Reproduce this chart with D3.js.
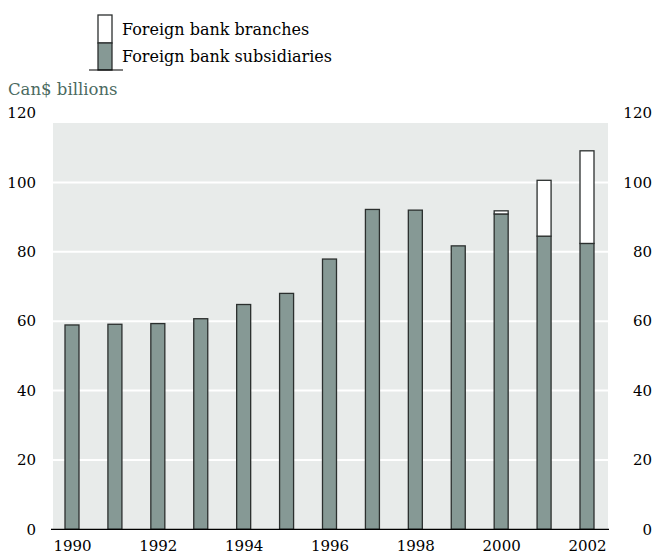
<!DOCTYPE html>
<html><head><meta charset="utf-8">
<script src="https://cdn.jsdelivr.net/npm/d3@7"></script>
<style>body{margin:0;background:#fff;} svg{display:block;}</style>
</head><body>
<svg id="c" width="654" height="560"></svg>
<script>
const years = [1990,1991,1992,1993,1994,1995,1996,1997,1998,1999,2000,2001,2002];
const subsidiaries = [58.9,59.1,59.3,60.7,64.8,68.0,77.9,92.2,92.0,81.7,90.9,84.5,82.4];
const branches = [0,0,0,0,0,0,0,0,0,0,0.9,16.1,26.7];
const yTicks = [0,20,40,60,80,100,120];
const xTickYears = [1990,1992,1994,1996,1998,2000,2002];
const seriesNames = ["Foreign bank branches","Foreign bank subsidiaries"];

const FONT = "DejaVu Serif";
const svg = d3.select("#c");
const x = d3.scalePoint().domain(years).range([72, 587]);
const y = d3.scaleLinear().domain([0,120]).range([529.3, 113]);
const bw = 14;
const fillSub = "#869995", strokeC = "#2b2f2e";

// background
svg.append("rect").attr("x",53).attr("y",123).attr("width",555).attr("height",y(0)-123).attr("fill","#e8ebea");
// gridlines
svg.append("g").selectAll("line").data(yTicks.filter(d=>d>0&&d<120)).join("line")
  .attr("x1",53).attr("x2",608).attr("y1",d=>y(d)).attr("y2",d=>y(d))
  .attr("stroke","#fff").attr("stroke-width",2);

// bars
const data = years.map((yr,i)=>({yr, s:subsidiaries[i], b:branches[i]}));
svg.append("g").selectAll("rect").data(data).join("rect")
  .attr("x",d=>x(d.yr)-bw/2).attr("width",bw)
  .attr("y",d=>y(d.s)).attr("height",d=>y(0)-y(d.s))
  .attr("fill",fillSub).attr("stroke",strokeC).attr("stroke-width",1.3);
svg.append("g").selectAll("rect").data(data.filter(d=>d.b>0)).join("rect")
  .attr("x",d=>x(d.yr)-bw/2).attr("width",bw)
  .attr("y",d=>y(d.s+d.b)).attr("height",d=>y(d.s)-y(d.s+d.b))
  .attr("fill","#fff").attr("stroke",strokeC).attr("stroke-width",1.3);

// x axis line
svg.append("line").attr("x1",51).attr("x2",609).attr("y1",y(0)).attr("y2",y(0)).attr("stroke","#000").attr("stroke-width",1.2);

// axes
const ax = d3.axisBottom(x).tickValues(xTickYears).tickSize(0).tickPadding(0).tickFormat(d3.format("d"));
const gx = svg.append("g").attr("transform",`translate(0,${y(0)+11})`).call(ax);
gx.select(".domain").remove();
gx.selectAll("text").attr("font-family",FONT).attr("font-size",15).attr("fill","#000").attr("dy","0.71em");

const gl = svg.append("g").attr("transform","translate(36,0)").call(d3.axisLeft(y).tickValues(yTicks).tickSize(0).tickPadding(0));
gl.select(".domain").remove();
gl.selectAll("text").attr("font-family",FONT).attr("font-size",15).attr("fill","#000");
const gr = svg.append("g").attr("transform","translate(652,0)").call(d3.axisLeft(y).tickValues(yTicks).tickSize(0).tickPadding(0));
gr.select(".domain").remove();
gr.selectAll("text").attr("font-family",FONT).attr("font-size",15).attr("fill","#000");

// unit label
svg.append("text").attr("x",8).attr("y",95).text("Can$ billions")
  .attr("font-family",FONT).attr("font-size",16.5).attr("fill","#4b6a5f");

// legend
const lg = svg.append("g");
lg.append("rect").attr("x",98).attr("y",15).attr("width",14).attr("height",28).attr("fill","#fff").attr("stroke",strokeC).attr("stroke-width",1.3);
lg.append("rect").attr("x",98).attr("y",43).attr("width",14).attr("height",27).attr("fill",fillSub).attr("stroke",strokeC).attr("stroke-width",1.3);
lg.append("line").attr("x1",89).attr("x2",123).attr("y1",70).attr("y2",70).attr("stroke","#000").attr("stroke-width",1.2);
lg.selectAll("text.l").data(seriesNames).join("text").attr("class","l")
  .attr("x",122).attr("y",(d,i)=>35+i*27).text(d=>d)
  .attr("font-family",FONT).attr("font-size",16).attr("fill","#000");
</script>
</body></html>
